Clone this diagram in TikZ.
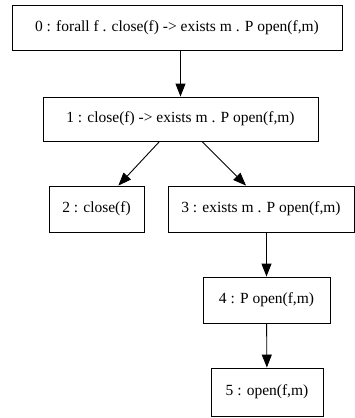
\documentclass[tikz,border=0pt]{standalone}
\usepackage{fontspec}
\setmainfont{Liberation Serif}
\usetikzlibrary{arrows.meta}
\begin{document}
\begin{tikzpicture}[x=1pt,y=-1pt,
  box/.style={draw,line width=0.9pt,inner sep=0pt,font=\fontsize{15.5}{17}\selectfont,anchor=center},
  edge/.style={line width=0.9pt,-{Triangle[length=13pt,width=10pt]}}]
\useasboundingbox (0,0) rectangle (355,418);
\node[box,minimum width=330pt,minimum height=45pt] (n0) at (177,27.5) {0 : forall f . close(f) -> exists m . P open(f,m)};
\node[box,minimum width=275pt,minimum height=44pt] (n1) at (180.5,119) {1 : close(f) -> exists m . P open(f,m)};
\node[box,minimum width=95pt,minimum height=46pt] (n2) at (96.5,209) {2 : close(f)};
\node[box,minimum width=186pt,minimum height=46pt] (n3) at (261,209) {3 : exists m . P open(f,m)};
\node[box,minimum width=127pt,minimum height=46pt] (n4) at (266.5,300) {4 : P open(f,m)};
\node[box,minimum width=112pt,minimum height=48pt] (n5) at (267,392) {5 : open(f,m)};
\draw[edge] (n0.south -| n1.north) -- (n1);
\draw[edge] (n1) -- (n2);
\draw[edge] (n1.south -| 202,0) -- (n3.north -| 246,0);
\draw[edge] (n3.south -| n4.north) -- (n4);
\draw[edge] (n4) -- (n5);
\end{tikzpicture}
\end{document}
